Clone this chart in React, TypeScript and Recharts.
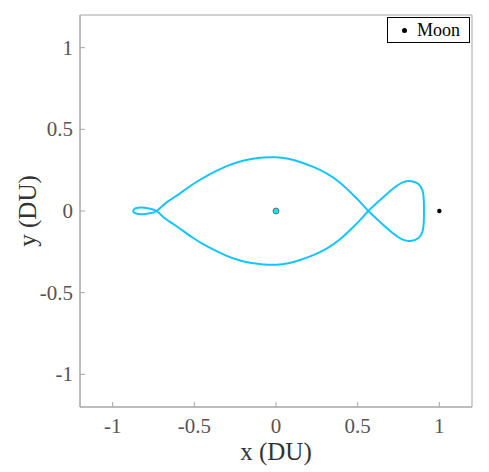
import React from 'react';
import { ComposedChart, Line, Scatter, XAxis, YAxis, Legend, ReferenceArea } from 'recharts';

// trajectory, in path order (closed loop)
const orbitX = [
  0.565, 0.52, 0.473, 0.392, 0.31, 0.228, 0.147, 0.075, 0, -0.075, -0.15, -0.225, -0.312, -0.415, -0.516, -0.618, -0.68, -0.731,
  -0.78, -0.83, -0.866, -0.874, -0.862, -0.82, -0.775, -0.731,
  -0.68, -0.618, -0.516, -0.415, -0.312, -0.225, -0.15, -0.075, 0, 0.075, 0.147, 0.228, 0.31, 0.392, 0.473, 0.52, 0.565,
  0.637, 0.718, 0.78, 0.83, 0.872, 0.897, 0.905, 0.906, 0.905, 0.897, 0.872, 0.83, 0.78, 0.718, 0.637, 0.565,
];
const orbitY = [
  0, 0.05, 0.098, 0.173, 0.23, 0.27, 0.3, 0.32, 0.329, 0.327, 0.318, 0.302, 0.27, 0.22, 0.159, 0.087, 0.045, 0,
  -0.016, -0.02, -0.012, 0, 0.016, 0.022, 0.015, 0,
  -0.045, -0.087, -0.159, -0.22, -0.27, -0.302, -0.318, -0.327, -0.329, -0.32, -0.3, -0.27, -0.23, -0.173, -0.098, -0.05, 0,
  0.067, 0.138, 0.177, 0.182, 0.165, 0.125, 0.065, 0, -0.065, -0.125, -0.165, -0.182, -0.177, -0.138, -0.067, 0,
];

const earthPos = [{ x: 0, y: 0 }];
const moonPos = [{ x: 1, y: 0 }];

const xTicks = [-1, -0.5, 0, 0.5, 1];
const yTicks = [-1, -0.5, 0, 0.5, 1];
const axisDomain: [number, number] = [-1.2, 1.2];

const orbitData = orbitX.map((x, i) => ({ x, y: orbitY[i] }));

const FONT = '"Liberation Serif", "Times New Roman", Times, serif';
const AXIS_GREY = '#a6a6a6';
const TICK_TEXT = '#555555';

const XTick = ({ x, y, payload }: any) => (
  <text x={x} y={y + 15} textAnchor="middle" style={{ fontFamily: FONT, fontSize: 21 }} fill={TICK_TEXT}>
    {payload.value}
  </text>
);

const YTick = ({ x, y, payload }: any) => (
  <text x={x} y={y + 7} textAnchor="end" style={{ fontFamily: FONT, fontSize: 21 }} fill={TICK_TEXT}>
    {payload.value}
  </text>
);

const YLabel = (props: any) => {
  const vb = props.viewBox || {};
  const cx = vb.x + 27;
  const cy = vb.y + vb.height / 2;
  return (
    <text
      x={cx}
      y={cy}
      transform={`rotate(-90, ${cx}, ${cy})`}
      textAnchor="middle"
      dominantBaseline="central"
      style={{ fontFamily: FONT, fontSize: 25 }}
      fill="#333333"
    >
      y (DU)
    </text>
  );
};

const XLabel = (props: any) => {
  const vb = props.viewBox || {};
  return (
    <text
      x={vb.x + vb.width / 2}
      y={vb.y + 53}
      textAnchor="middle"
      style={{ fontFamily: FONT, fontSize: 25 }}
      fill="#333333"
    >
      x (DU)
    </text>
  );
};

const LegendBox = (props: any) => {
  const items = (props.payload || []).filter((p: any) => p.value === 'Moon');
  return (
    <div
      style={{
        border: '1px solid #000',
        background: '#fff',
        width: 81,
        height: 24,
        boxSizing: 'content-box',
        display: 'flex',
        alignItems: 'center',
        fontFamily: FONT,
        fontSize: 18,
        color: '#000',
      }}
    >
      {items.map((item: any) => (
        <div key={item.value} style={{ display: 'flex', alignItems: 'center' }}>
          <span
            style={{
              display: 'inline-block',
              width: 5,
              height: 5,
              borderRadius: '50%',
              background: '#000',
              marginLeft: 14,
              marginRight: 10,
            }}
          />
          <span>{item.value}</span>
        </div>
      ))}
    </div>
  );
};

export default function App() {
  return (
    <div style={{ position: 'absolute', left: 0, top: 0, background: '#fff', fontFamily: FONT }}>
      <ComposedChart width={489} height={472} margin={{ top: 15, right: 17, bottom: 0, left: 0 }}>
        <XAxis
          type="number"
          dataKey="x"
          domain={axisDomain}
          ticks={xTicks}
          allowDataOverflow
          height={65}
          stroke={AXIS_GREY}
          tickSize={-5}
          tickMargin={16}
          tick={XTick}
          label={XLabel}
        />
        <YAxis
          type="number"
          dataKey="y"
          domain={axisDomain}
          ticks={yTicks}
          allowDataOverflow
          width={80}
          stroke={AXIS_GREY}
          tickSize={-5}
          tickMargin={12}
          tick={YTick}
          label={YLabel}
        />
        <ReferenceArea
          x1={axisDomain[0]}
          x2={axisDomain[1]}
          y1={axisDomain[0]}
          y2={axisDomain[1]}
          fill="none"
          stroke={AXIS_GREY}
          strokeWidth={1}
        />
        <Line
          data={orbitData}
          dataKey="y"
          type="natural"
          stroke="#12c6f8"
          strokeWidth={2}
          dot={false}
          activeDot={false}
          legendType="none"
          isAnimationActive={false}
        />
        <Scatter
          data={earthPos}
          dataKey="y"
          name="Earth"
          legendType="none"
          isAnimationActive={false}
          shape={(p: any) => <circle cx={p.cx} cy={p.cy} r={3} fill="#00e8e8" stroke="#5a5a5a" strokeWidth={0.8} />}
        />
        <Scatter
          data={moonPos}
          dataKey="y"
          name="Moon"
          legendType="circle"
          isAnimationActive={false}
          shape={(p: any) => <circle cx={p.cx} cy={p.cy} r={2.2} fill="#000" />}
        />
        <Legend
          layout="horizontal"
          verticalAlign="middle"
          align="center"
          wrapperStyle={{ position: 'absolute', top: 17, left: 387, width: 'auto' }}
          content={LegendBox}
        />
      </ComposedChart>
    </div>
  );
}
